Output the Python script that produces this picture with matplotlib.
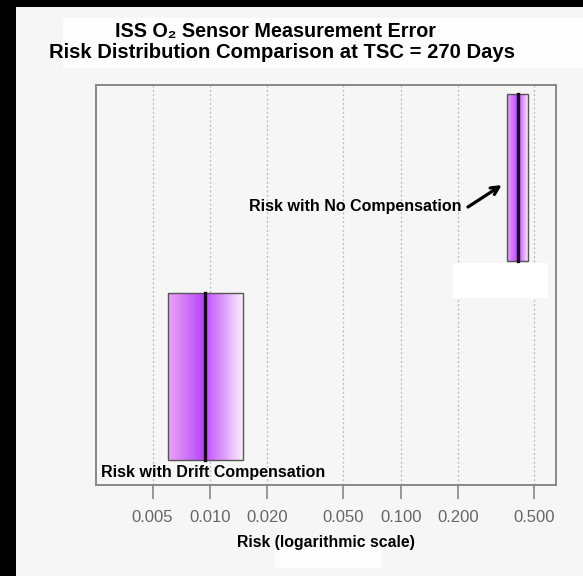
import numpy as np
import matplotlib.pyplot as plt
from matplotlib.patches import Rectangle

plt.rcParams['font.family'] = ['Liberation Sans', 'DejaVu Sans']

# boxes: lower quartile, median, upper quartile of risk
labels = ["Risk with Drift Compensation", "Risk with No Compensation"]
q1 = [0.0060, 0.358]
med = [0.0094, 0.411]
q3 = [0.0148, 0.464]
ticks = [0.005, 0.010, 0.020, 0.050, 0.100, 0.200, 0.500]
tick_labels = ["0.005", "0.010", "0.020", "0.050", "0.100", "0.200", "0.500"]

fig = plt.figure(figsize=(5.83, 5.76), dpi=100)
fig.patch.set_facecolor("black")
W, H = 583, 576
fig.patches.append(Rectangle((16 / W, 0), 1, 1 - 7 / H, transform=fig.transFigure,
                             facecolor="#f6f6f6", edgecolor="none", zorder=-10))
# white patches in the original image
for (x0, y0, x1, y1) in [(63, 18, 583, 68), (275, 543, 382, 568)]:
    fig.patches.append(Rectangle((x0 / W, 1 - y1 / H), (x1 - x0) / W, (y1 - y0) / H,
                                 transform=fig.transFigure, facecolor="#fdfdfd",
                                 edgecolor="none", zorder=-9))

ax = fig.add_axes([96 / W, 1 - 485 / H, (556 - 96) / W, (485 - 85) / H])
ax.set_facecolor("#f6f6f6")
ax.set_xscale("log")
ax.set_xlim(0.00253, 0.648)
ax.set_ylim(0.456, 2.463)

for t in ticks:
    ax.axvline(t, color="#b8b8b8", linestyle=(0, (1.5, 2)), linewidth=0.9, zorder=0)

def shade(t, left):
    if left:
        c0 = np.array([235, 165, 248]); c1 = np.array([182, 68, 246])
    else:
        c0 = np.array([192, 80, 250]); c1 = np.array([251, 234, 251])
    return (c0 + (c1 - c0) * t) / 255.0

h = 0.84
n = 40
for i in range(len(labels)):
    y = i + 1
    lq, m, uq = np.log10(q1[i]), np.log10(med[i]), np.log10(q3[i])
    for lo, hi, left in [(lq, m, True), (m, uq, False)]:
        edges = np.linspace(lo, hi, n + 1)
        for k in range(n):
            ax.barh(y, 10 ** edges[k + 1] - 10 ** edges[k], left=10 ** edges[k], height=h,
                    color=shade(k / (n - 1), left), edgecolor="none", zorder=2)
    ax.barh(y, q3[i] - q1[i], left=q1[i], height=h, facecolor="none",
            edgecolor="#555555", linewidth=1.0, zorder=3)
    ax.plot([med[i], med[i]], [y - h / 2, y + h / 2], color="#1a0020", linewidth=2.4, zorder=4)

# white patch below upper box in the original
ax.add_patch(Rectangle((453 / W, 1 - 298 / H), (548 - 453) / W, (298 - 263) / H,
                       transform=fig.transFigure, facecolor="white", edgecolor="none", zorder=1))

ax.text(0.00268, 0.521, labels[0], fontsize=11.5, fontweight="bold", va="center", ha="left", zorder=5)
ax.text(0.2078, 1.851, labels[1], fontsize=11.5, fontweight="bold", va="center", ha="right", zorder=5)
ax.annotate("", xy=(0.337, 1.961), xytext=(0.2243, 1.851),
            arrowprops=dict(arrowstyle="->", color="black", lw=2.3, shrinkA=0, shrinkB=0,
                            mutation_scale=14))

ax.set_xticks(ticks)
ax.set_xticklabels(tick_labels)
ax.minorticks_off()
ax.tick_params(axis="x", length=10, width=1.2, color="#888888", labelsize=12,
               labelcolor="#666666", pad=8)
ax.set_yticks([])
for s in ax.spines.values():
    s.set_color("#888888")
    s.set_linewidth(1.4)
ax.set_xlabel("Risk (logarithmic scale)", fontsize=11.4, fontweight="bold", labelpad=7)

fig.text(0.472, 1 - 31 / H, "ISS O\u2082 Sensor Measurement Error", ha="center", va="center",
         fontsize=14.2, fontweight="bold")
fig.text(0.484, 1 - 52 / H, "Risk Distribution Comparison at TSC = 270 Days", ha="center",
         va="center", fontsize=14.6, fontweight="bold")

fig.savefig("out.png", dpi=100, facecolor=fig.get_facecolor())
